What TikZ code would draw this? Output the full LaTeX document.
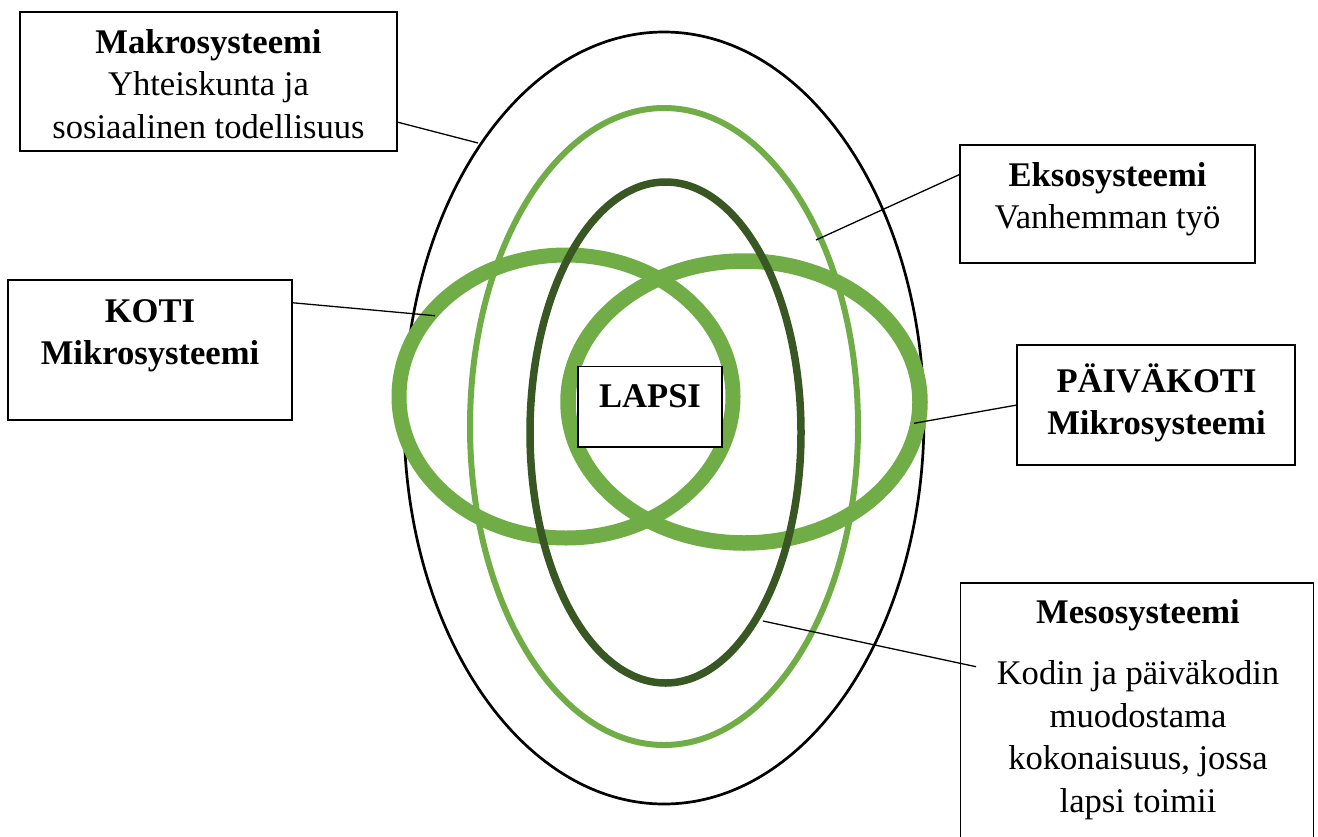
\documentclass[tikz,border=0pt]{standalone}
\usepackage{fontspec}
\setmainfont{Liberation Serif}
\definecolor{lgreen}{HTML}{70AD47}
\definecolor{dgreen}{HTML}{385723}
\begin{document}
\begin{tikzpicture}[x=0.5pt,y=-0.5pt,
  ringline/.style={line join=round, line cap=round},
  box/.style={draw=black, line width=0.75pt, fill=white, anchor=north west, inner sep=0pt, outer sep=0pt},
  txt/.style={anchor=north, align=center, inner sep=0pt, font=\fontsize{17.3pt}{21.25pt}\selectfont},
  conn/.style={draw=black, line width=0.65pt}]
\useasboundingbox (0,0) rectangle (1318,836);

% ellipses
\draw[ringline, black, line width=1.35pt] (664,418) ellipse [x radius=130pt, y radius=193pt];
\draw[ringline, lgreen, line width=7.5pt] (566,396.5) ellipse [x radius=83.5pt, y radius=70.75pt];
\draw[ringline, lgreen, line width=7.75pt] (744,402) ellipse [x radius=88pt, y radius=70.5pt];
\draw[ringline, lgreen, line width=3pt] (664,426.5) ellipse [x radius=97pt, y radius=159.25pt];
\draw[ringline, dgreen, line width=3.75pt] (665.5,182) arc[start angle=90, end angle=450, x radius=67.75pt, y radius=125.25pt];

% boxes
\node[box, minimum width=188.5pt, minimum height=69.5pt] (makroB) at (20,12) {};
\node[box, minimum width=147.5pt, minimum height=59pt] (eksoB) at (960,145) {};
\node[box, minimum width=142pt, minimum height=70pt] (kotiB) at (8,280) {};
\node[box, minimum width=72pt, minimum height=40.25pt] (lapsiB) at (578,366.5) {};
\node[box, minimum width=139pt, minimum height=60pt] (pkB) at (1017,345) {};
\node[box, minimum width=176.5pt, minimum height=135pt] (mesoB) at (960.5,583) {};

% texts
\node[txt] (makroT) at (208.5,18.1) {\rule{0pt}{1em}\textbf{Makrosysteemi}\\Yhteiskunta ja\\sosiaalinen todellisuus};
\node[txt] (eksoT) at (1107.5,151.4) {\rule{0pt}{1em}\textbf{Eksosysteemi}\\Vanhemman työ};
\node[txt] (kotiT) at (150,287.1) {\rule{0pt}{1em}\textbf{KOTI}\\\textbf{Mikrosysteemi}};
\node[txt] (lapsiT) at (650,372.1) {\rule{0pt}{1em}\textbf{LAPSI}};
\node[txt] (pkT) at (1156.5,357.1) {\rule{0pt}{1em}\textbf{PÄIVÄKOTI}\\\textbf{Mikrosysteemi}};
\node[txt] (mesoT) at (1138,588.7) {\rule{0pt}{1em}\textbf{Mesosysteemi}\\[9.3pt]Kodin ja päiväkodin\\muodostama\\kokonaisuus, jossa\\lapsi toimii};

% connector end points
\coordinate (makroP) at (478,143);
\coordinate (eksoP) at (816,240);
\coordinate (kotiP) at (435,315.7);
\coordinate (pkP) at (914,423.3);
\coordinate (mesoP) at (763,621);
\coordinate (mesoIn) at (976,666.7);

% connectors
\draw[conn] ([yshift=-20.25pt]makroB.east) -- (makroP);
\draw[conn] ([yshift=14.85pt]eksoB.west) -- (eksoP);
\draw[conn] ([yshift=23.65pt]kotiB.east) -- (kotiP);
\draw[conn] (pkB.west) -- (pkP);
\draw[conn] (mesoIn) -- (mesoP);
\end{tikzpicture}
\end{document}
